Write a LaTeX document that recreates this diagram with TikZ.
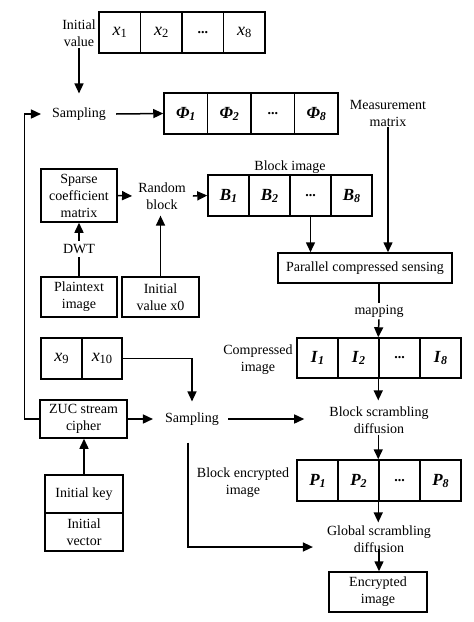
\documentclass[tikz,border=0pt]{standalone}
\usepackage{fontspec}
\setmainfont{Liberation Serif}
\usetikzlibrary{arrows.meta}
\newcommand{\cellsym}[2]{{\fontsize{17}{17}\selectfont\textbf{\textit{#1}}}\raisebox{-2pt}{\fontsize{12}{12}\selectfont\textbf{\textit{#2}}}}
\newcommand{\xsym}[1]{{\fontsize{18}{18}\selectfont\textit{x}}\raisebox{-2pt}{\fontsize{12.5}{12.5}\selectfont #1}}
\begin{document}
\begin{tikzpicture}[x=1pt,y=-1pt,
  every node/.style={font=\fontsize{14}{17}\selectfont},
  lw/.style={line width=1.5pt},
  cell/.style={draw, lw, minimum height=41pt, inner sep=0pt, anchor=center},
  box/.style={draw, lw, align=center, inner sep=0pt},
  txt/.style={align=center, inner sep=1pt},
  arr/.style={lw, -{Triangle[length=10pt,width=9pt]}},
  ln/.style={lw}]
\useasboundingbox (0,0) rectangle (474,622);

% x1..x8 array
\node[cell, minimum width=41.5pt] (x1) at (119.75,32.5) {\xsym{1}};
\node[cell, minimum width=41.5pt] (x2) at (161.25,32.5) {\xsym{2}};
\node[cell, minimum width=41.5pt] (xd) at (202.75,32.5) {\textbf{...}};
\node[cell, minimum width=41.5pt] (x8) at (244.25,32.5) {\xsym{8}};
\node[txt] (initval) at (79,33) {Initial\\value};

% Phi array
\node[cell, minimum width=43.5pt] (phi1) at (185.75,113.5) {\cellsym{Φ}{1}};
\node[cell, minimum width=43.5pt] (phi2) at (229.25,113.5) {\cellsym{Φ}{2}};
\node[cell, minimum width=43.5pt] (phid) at (272.75,113.5) {\textbf{...}};
\node[cell, minimum width=43.5pt] (phi8) at (316.25,113.5) {\cellsym{Φ}{8}};
\node[txt] (samp1) at (79,114) {Sampling};
\node[txt] (meas) at (388,113) {Measurement\\matrix};

% B array
\node[cell, minimum width=41pt] (B1) at (228.5,195.5) {\cellsym{B}{1}};
\node[cell, minimum width=41pt] (B2) at (269.5,195.5) {\cellsym{B}{2}};
\node[cell, minimum width=41pt] (B3) at (310.5,195.5) {\textbf{...}};
\node[cell, minimum width=41pt] (B8) at (351.5,195.5) {\cellsym{B}{8}};
\node[txt] (blockimg) at (290,167) {Block image};

\node[box, minimum width=76pt, minimum height=53pt] (sparse) at (79,195.5) {Sparse\\coefficient\\matrix};
\node[txt] (rand) at (162,196) {Random\\block};
\node[txt, inner sep=3pt] (dwt) at (79,249) {DWT};
\node[box, minimum width=76pt, minimum height=40pt] (plain) at (79,297) {Plaintext\\image};
\node[box, minimum width=77pt, minimum height=40pt] (iv0) at (160.5,297) {Initial\\value x0};
\node[box, minimum width=174pt, minimum height=30pt] (pcs) at (365,268) {Parallel compressed sensing};
\node[txt, inner sep=2pt] (mapping) at (379,311) {mapping};

% I array
\node[cell, minimum width=41pt, minimum height=40pt] (I1) at (317.5,358) {\cellsym{I}{1}};
\node[cell, minimum width=41pt, minimum height=40pt] (I2) at (358.5,358) {\cellsym{I}{2}};
\node[cell, minimum width=41pt, minimum height=40pt] (I3) at (399.5,358) {\textbf{...}};
\node[cell, minimum width=41pt, minimum height=40pt] (I8) at (440.5,358) {\cellsym{I}{8}};
\node[txt] (comp) at (258,360) {Compressed\\image};

% x9 x10
\node[cell, minimum width=41pt] (x9) at (61.5,358.5) {\xsym{9}};
\node[cell, minimum width=40pt] (x10) at (102,358.5) {\xsym{10}};

\node[box, minimum width=87pt, minimum height=38pt] (zuc) at (83.5,419) {ZUC stream\\cipher};
\node[txt] (samp2) at (192,419) {Sampling};
\node[txt] (bsd) at (379,420) {Block scrambling\\diffusion};

% P array
\node[cell, minimum width=41pt] (P1) at (317.5,480.5) {\cellsym{P}{1}};
\node[cell, minimum width=41pt] (P2) at (358.5,480.5) {\cellsym{P}{2}};
\node[cell, minimum width=41pt] (P3) at (399.5,480.5) {\textbf{...}};
\node[cell, minimum width=41pt] (P8) at (440.5,480.5) {\cellsym{P}{8}};
\node[txt] (bei) at (243,483) {Block encrypted\\image};

\node[box, minimum width=78pt, minimum height=38pt] (key) at (84,494) {Initial key};
\node[box, minimum width=78pt, minimum height=38pt] (vec) at (84,532) {Initial\\vector};
\node[txt] (gsd) at (379,539) {Global scrambling\\diffusion};
\node[box, minimum width=98pt, minimum height=40pt] (enc) at (378,592) {Encrypted\\image};

% connectors
\draw[arr] (initval.south) -- ([yshift=13pt]samp1.north);
\draw[arr] (zuc.west) -- ++(-15,0) |- ([xshift=-10pt]samp1.west);
\draw[arr] ([xshift=9pt]samp1.east) -- (phi1.west);
\draw[arr] (meas.south) -- (meas.south |- pcs.north);
\draw[arr] (sparse.east) -- ([xshift=-5pt]rand.west);
\draw[arr] ([xshift=6pt]rand.east) -- (B1.west);
\draw[arr] (B3.south) -- (B3.south |- pcs.north);
\draw[ln] (plain.north) -- (dwt.south);
\draw[arr] (dwt.north) -- (sparse.south);
\draw[arr] (iv0.north) -- ([yshift=-5pt]iv0.north |- rand.south);
\draw[ln] (mapping.north |- pcs.south) -- (mapping.north);
\draw[arr] (mapping.south) -- (I3.north west);
\draw[arr] (I3.south west) -- ([yshift=5pt]I3.south west |- bsd.north);
\draw[arr] (bsd.south -| P3.north west) -- (P3.north west);
\draw[arr] (P3.south west) -- ([yshift=2pt]P3.south west |- gsd.north);
\draw[arr] ([yshift=-10pt]gsd.center) -- (gsd.center |- enc.north);
\draw[arr] (x10.east) -| ([yshift=10pt]samp2.north);
\draw[arr] (zuc.east) -- ([xshift=-11pt]samp2.west);
\draw[arr] ([xshift=8pt]samp2.east) -- ([xshift=-24pt]bsd.west |- samp2.east);
\draw[arr] ([xshift=-4pt,yshift=-16pt]samp2.south) |- ([xshift=-13pt,yshift=-8pt]gsd.west);
\draw[arr] (key.north) -- (key.north |- zuc.south);
\end{tikzpicture}
\end{document}
